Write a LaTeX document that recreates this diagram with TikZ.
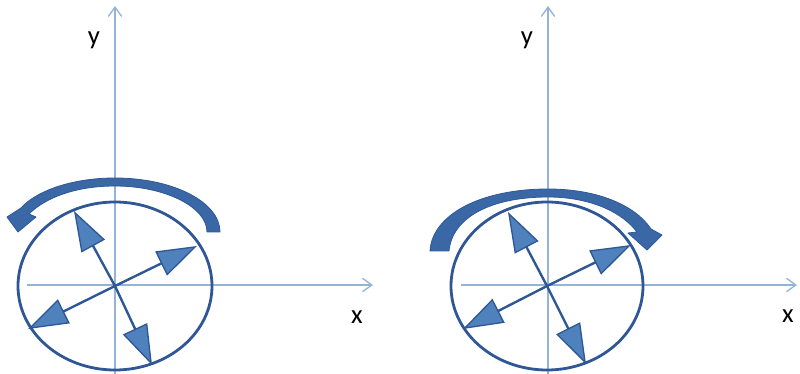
\documentclass[tikz,border=0pt]{standalone}
\usepackage{fontspec}
\setmainfont{Carlito}
\usetikzlibrary{arrows.meta}

\definecolor{axisblue}{RGB}{149,179,215}
\definecolor{rimblue}{RGB}{47,87,150}
\definecolor{headblue}{RGB}{79,129,189}
\definecolor{spinblue}{RGB}{58,104,166}

\tikzset{
  axisline/.style={axisblue, line width=1pt, -{Straight Barb[length=7pt,width=10pt,line width=1pt]}},
  rim/.style={rimblue, line width=2.1pt},
  vec/.style={rimblue, line width=1.8pt, -{Triangle[length=30pt,width=20pt,fill=headblue,line width=1pt]}},
  spin/.style={fill=spinblue, draw=rimblue, line width=0.6pt, line join=round},
  lbl/.style={inner sep=0pt, font=\fontsize{20}{24}\selectfont}
}

\begin{document}
\begin{tikzpicture}[x=0.75pt, y=-0.75pt]
\useasboundingbox (0,0) rectangle (800,374);

% Left picture: axes
\coordinate (yb1) at (115,374);
\coordinate (yt1) at (115,6);
\coordinate (xl1) at (27,285);
\coordinate (xr1) at (373,285);
\draw[axisline] (yb1) -- (yt1);
\draw[axisline] (xl1) -- (xr1);
\node[lbl] (ylab1) at (94,40) {y};
\node[lbl] (xlab1) at (357,317) {x};

% Left picture: wheel and vectors
\coordinate (o1) at (115,286);
\coordinate (ul1) at (74,211);
\coordinate (r1) at (197,246);
\coordinate (ll1) at (28,329);
\coordinate (lr1) at (152,365);
\draw[rim] (o1) ellipse [x radius=72.75pt, y radius=63pt];
\draw[vec] (o1) -- (ul1);
\draw[vec] (o1) -- (r1);
\draw[vec] (o1) -- (ll1);
\draw[vec] (o1) -- (lr1);

% Left picture: turning arrow
\draw[spin] (220,232) .. controls (220,202) and (173,178) .. (115,178)
  .. controls (70,178) and (35,192) .. (21,208)
  -- (7,217) -- (18,232) -- (36,217) -- (29,214)
  .. controls (45,198) and (75,186) .. (115,186)
  .. controls (165,186) and (207,207) .. (207,232) -- cycle;

% Right picture: axes
\coordinate (yb2) at (548,374);
\coordinate (yt2) at (548,6);
\coordinate (xl2) at (461,285);
\coordinate (xr2) at (797,285);
\draw[axisline] (yb2) -- (yt2);
\draw[axisline] (xl2) -- (xr2);
\node[lbl] (ylab2) at (527,40) {y};
\node[lbl] (xlab2) at (788,316) {x};

% Right picture: wheel and vectors
\coordinate (o2) at (547,286);
\coordinate (ul2) at (508,212);
\coordinate (r2) at (631,245);
\coordinate (ll2) at (463,329);
\coordinate (lr2) at (586,364);
\draw[rim] (o2) ellipse [x radius=72pt, y radius=63pt];
\draw[vec] (o2) -- (ul2);
\draw[vec] (o2) -- (r2);
\draw[vec] (o2) -- (ll2);
\draw[vec] (o2) -- (lr2);

% Right picture: turning arrow
\draw[spin] (430,251) .. controls (432,215) and (480,189) .. (548,189)
  .. controls (597,189) and (635,205) .. (651,229)
  -- (662,235) -- (647,250) -- (628,233) -- (637,232)
  .. controls (622,212) and (590,197) .. (548,197)
  .. controls (490,197) and (452,218) .. (449,251) -- cycle;

\end{tikzpicture}
\end{document}
